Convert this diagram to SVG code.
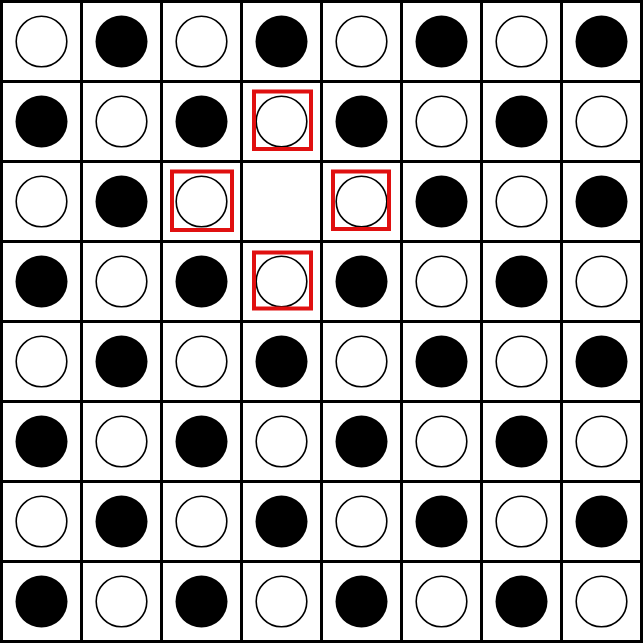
<svg xmlns="http://www.w3.org/2000/svg" width="643" height="643" viewBox="0 0 643 643">
<style>
.w{fill:#fff;stroke:#000;stroke-width:1.6}
.b{fill:#000}
.grid{stroke:#000;stroke-width:3;fill:none}
.hl{fill:none;stroke:#e01010;stroke-width:4}
</style>
<rect width="643" height="643" fill="#fff"/>
<g id="grid" class="grid">
<path d="M1.5 0V643M81.5 0V643M161.5 0V643M241.5 0V643M321.5 0V643M401.5 0V643M481.5 0V643M561.5 0V643M641.5 0V643"/>
<path d="M0 1.5H643M0 81.5H643M0 161.5H643M0 241.5H643M0 321.5H643M0 401.5H643M0 481.5H643M0 561.5H643M0 641.5H643"/>
</g>
<g id="row0">
<circle class="w" cx="41.5" cy="41.5" r="25.3"/><circle class="b" cx="121.5" cy="41.5" r="26"/><circle class="w" cx="201.5" cy="41.5" r="25.3"/><circle class="b" cx="281.5" cy="41.5" r="26"/><circle class="w" cx="361.5" cy="41.5" r="25.3"/><circle class="b" cx="441.5" cy="41.5" r="26"/><circle class="w" cx="521.5" cy="41.5" r="25.3"/><circle class="b" cx="601.5" cy="41.5" r="26"/>
</g>
<g id="row1">
<circle class="b" cx="41.5" cy="121.5" r="26"/><circle class="w" cx="121.5" cy="121.5" r="25.3"/><circle class="b" cx="201.5" cy="121.5" r="26"/><circle class="w" cx="281.5" cy="121.5" r="25.3"/><circle class="b" cx="361.5" cy="121.5" r="26"/><circle class="w" cx="441.5" cy="121.5" r="25.3"/><circle class="b" cx="521.5" cy="121.5" r="26"/><circle class="w" cx="601.5" cy="121.5" r="25.3"/>
</g>
<g id="row2">
<circle class="w" cx="41.5" cy="201.5" r="25.3"/><circle class="b" cx="121.5" cy="201.5" r="26"/><circle class="w" cx="201.5" cy="201.5" r="25.3"/><circle class="w" cx="361.5" cy="201.5" r="25.3"/><circle class="b" cx="441.5" cy="201.5" r="26"/><circle class="w" cx="521.5" cy="201.5" r="25.3"/><circle class="b" cx="601.5" cy="201.5" r="26"/>
</g>
<g id="row3">
<circle class="b" cx="41.5" cy="281.5" r="26"/><circle class="w" cx="121.5" cy="281.5" r="25.3"/><circle class="b" cx="201.5" cy="281.5" r="26"/><circle class="w" cx="281.5" cy="281.5" r="25.3"/><circle class="b" cx="361.5" cy="281.5" r="26"/><circle class="w" cx="441.5" cy="281.5" r="25.3"/><circle class="b" cx="521.5" cy="281.5" r="26"/><circle class="w" cx="601.5" cy="281.5" r="25.3"/>
</g>
<g id="row4">
<circle class="w" cx="41.5" cy="361.5" r="25.3"/><circle class="b" cx="121.5" cy="361.5" r="26"/><circle class="w" cx="201.5" cy="361.5" r="25.3"/><circle class="b" cx="281.5" cy="361.5" r="26"/><circle class="w" cx="361.5" cy="361.5" r="25.3"/><circle class="b" cx="441.5" cy="361.5" r="26"/><circle class="w" cx="521.5" cy="361.5" r="25.3"/><circle class="b" cx="601.5" cy="361.5" r="26"/>
</g>
<g id="row5">
<circle class="b" cx="41.5" cy="441.5" r="26"/><circle class="w" cx="121.5" cy="441.5" r="25.3"/><circle class="b" cx="201.5" cy="441.5" r="26"/><circle class="w" cx="281.5" cy="441.5" r="25.3"/><circle class="b" cx="361.5" cy="441.5" r="26"/><circle class="w" cx="441.5" cy="441.5" r="25.3"/><circle class="b" cx="521.5" cy="441.5" r="26"/><circle class="w" cx="601.5" cy="441.5" r="25.3"/>
</g>
<g id="row6">
<circle class="w" cx="41.5" cy="521.5" r="25.3"/><circle class="b" cx="121.5" cy="521.5" r="26"/><circle class="w" cx="201.5" cy="521.5" r="25.3"/><circle class="b" cx="281.5" cy="521.5" r="26"/><circle class="w" cx="361.5" cy="521.5" r="25.3"/><circle class="b" cx="441.5" cy="521.5" r="26"/><circle class="w" cx="521.5" cy="521.5" r="25.3"/><circle class="b" cx="601.5" cy="521.5" r="26"/>
</g>
<g id="row7">
<circle class="b" cx="41.5" cy="601.5" r="26"/><circle class="w" cx="121.5" cy="601.5" r="25.3"/><circle class="b" cx="201.5" cy="601.5" r="26"/><circle class="w" cx="281.5" cy="601.5" r="25.3"/><circle class="b" cx="361.5" cy="601.5" r="26"/><circle class="w" cx="441.5" cy="601.5" r="25.3"/><circle class="b" cx="521.5" cy="601.5" r="26"/><circle class="w" cx="601.5" cy="601.5" r="25.3"/>
</g>
<g id="highlights" class="hl">
<rect x="254" y="91.5" width="57" height="57.5"/>
<rect x="172" y="171.5" width="60" height="58.5"/>
<rect x="333" y="171.5" width="56" height="57.5"/>
<rect x="254" y="252.5" width="57" height="56"/>
</g>
</svg>
